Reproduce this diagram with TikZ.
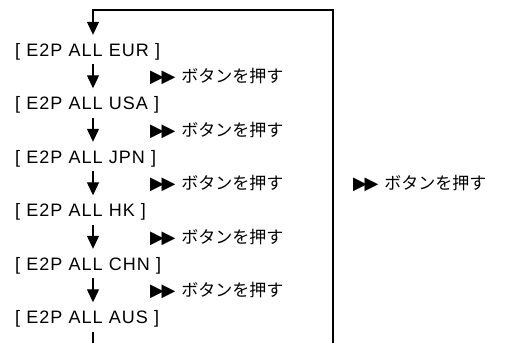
\documentclass[tikz,border=0pt]{standalone}
\usepackage{fontspec}
\setmainfont{Noto Sans CJK JP}
\newfontfamily\symfont{DejaVu Sans}
\newfontfamily\codefont{Liberation Sans}[LetterSpace=6]
\usetikzlibrary{arrows.meta}

\tikzset{
    mode/.style={anchor=west, inner xsep=0pt, inner ysep=8pt, text height=13pt, text depth=0pt, font=\codefont\fontsize{18}{18}\selectfont},
    press/.style={anchor=west, inner sep=0pt, text height=12pt, text depth=0pt, font=\fontsize{17}{17}\selectfont},
    wire/.style={line width=1.2pt},
    flow/.style={wire, -{Triangle[width=12pt,length=13pt]}}
}
\newcommand{\pressbtn}{{\symfont\fontsize{18}{18}\selectfont\raisebox{0pt}{▶\kern-2.5pt▶}}\hspace{6pt}ボタンを押す}

\begin{document}
\begin{tikzpicture}[x=1pt, y=-1pt]
    \useasboundingbox (0,0) rectangle (512,343);

    \coordinate (col) at (93,0);
    \coordinate (lt) at (93,10);
    \coordinate (rt) at (333,10);
    \coordinate (rb) at (333,343);
    \coordinate (lb) at (93,343);

    \node[mode] (eur) at (15,49.5) {[ E2P ALL EUR ]};
    \node[mode] (usa) at (15,103) {[ E2P ALL USA ]};
    \node[mode] (jpn) at (15,156.5) {[ E2P ALL JPN ]};
    \node[mode] (hk) at (15,210) {[ E2P ALL HK ]};
    \node[mode] (chn) at (15,263.5) {[ E2P ALL CHN ]};
    \node[mode] (aus) at (15,317) {[ E2P ALL AUS ]};

    \node[press] (p1) at (150,76) {\pressbtn};
    \node[press] (p2) at (150,130) {\pressbtn};
    \node[press] (p3) at (150,183) {\pressbtn};
    \node[press] (p4) at (150,237) {\pressbtn};
    \node[press] (p5) at (150,290) {\pressbtn};
    \node[press] (pback) at (353,183) {\pressbtn};

    \draw[flow] (rb) -- (rt) -- (lt) -- (eur.north -| col);
    \draw[flow] (eur.south -| col) -- (usa.north -| col);
    \draw[flow] (usa.south -| col) -- (jpn.north -| col);
    \draw[flow] (jpn.south -| col) -- (hk.north -| col);
    \draw[flow] (hk.south -| col) -- (chn.north -| col);
    \draw[flow] (chn.south -| col) -- (aus.north -| col);
    \draw[wire] (aus.south -| col) -- (lb);
\end{tikzpicture}
\end{document}
